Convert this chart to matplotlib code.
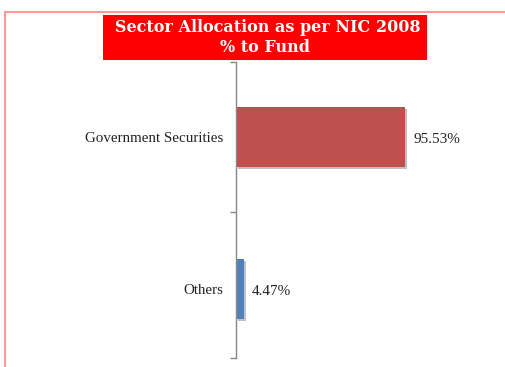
import matplotlib.pyplot as plt
import matplotlib.patheffects as pe
from matplotlib.patches import Rectangle
from matplotlib.lines import Line2D

sectors = ["Others", "Government Securities"]
allocation = [4.47, 95.53]
bar_colors = ["#4F81BD", "#C0504D"]
title_lines = ["Sector Allocation as per NIC 2008", "% to Fund"]

W, H = 506, 367
fig = plt.figure(figsize=(W / 100, H / 100), dpi=100)

# pink outer frame: only left and top edges fall inside the picture
frame = dict(transform=fig.transFigure, color="#FF9999", linewidth=1.5)
fig.lines.append(Line2D([5.5 / W, 5.5 / W], [0, 1 - 11.5 / H], **frame))
fig.lines.append(Line2D([5.5 / W, 1], [1 - 11.5 / H, 1 - 11.5 / H], **frame))

ax = fig.add_axes([236 / W, 1 - 358 / H, (W - 236) / W, (358 - 62) / H])

bars = ax.barh(range(len(sectors)), allocation, height=0.395, color=bar_colors,
               path_effects=[pe.SimplePatchShadow(offset=(1.5, -1.5), shadow_rgbFace="#999999", alpha=0.6),
                             pe.Normal()])
ax.set_xlim(0, (W - 236) / 1.77)
ax.set_ylim(-0.454, 1.493)

for b, v in zip(bars, allocation):
    ax.annotate(f"{v:.2f}%", (b.get_width(), b.get_y() + b.get_height() / 2),
                xytext=(6, -1.5), textcoords="offset points", va="center", ha="left",
                fontsize=11, family="Liberation Serif", color="#222222")

ax.set_yticks([-0.454, 0.506, 1.493], minor=False)
ax.set_yticklabels([])
ax.set_yticks(range(len(sectors)), minor=True)
ax.set_yticklabels(sectors, minor=True, fontsize=10.8, family="Liberation Serif", color="#222222",
                   va="center_baseline")
ax.tick_params(axis="y", which="major", length=4, color="#888888", width=1)
ax.tick_params(axis="y", which="minor", length=0, pad=9)
ax.set_xticks([])
for s in ["top", "right", "bottom"]:
    ax.spines[s].set_visible(False)
ax.spines["left"].set_color("#888888")
ax.spines["left"].set_linewidth(1)

# red title box
fig.patches.append(Rectangle((103 / W, 1 - 60 / H), (427 - 103) / W, 45 / H,
                             transform=fig.transFigure, facecolor="#FF0000", edgecolor="none"))
fig.text(268 / W, 1 - 28 / H, title_lines[0], ha="center", va="center", color="white",
         fontsize=11.5, fontweight="bold", family="DejaVu Serif")
fig.text(265 / W, 1 - 48 / H, title_lines[1], ha="center", va="center", color="white",
         fontsize=11.5, fontweight="bold", family="DejaVu Serif")

fig.savefig("out.png", dpi=100)
